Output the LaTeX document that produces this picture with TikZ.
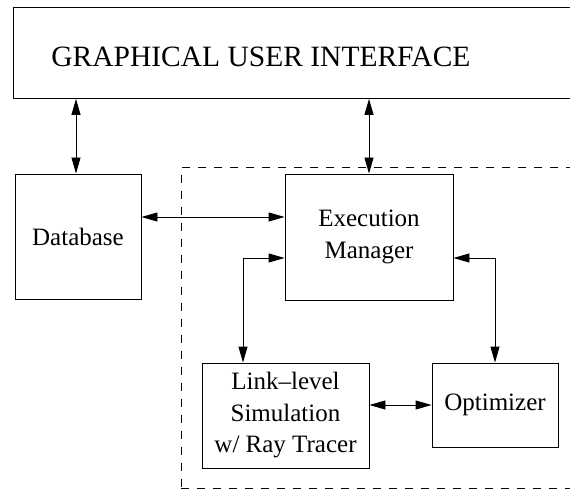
\documentclass[tikz,border=0pt]{standalone}
\usepackage{fontspec}
\setmainfont{Liberation Serif}
\usetikzlibrary{arrows.meta}
\begin{document}
\begin{tikzpicture}[x=1pt,y=-1pt,line width=0.9pt,
  box/.style={draw, inner sep=0pt, align=center,
    font=\fontsize{25}{31.5}\selectfont},
  biarrow/.style={{Triangle[length=16pt,width=9pt]}-{Triangle[length=16pt,width=9pt]}},
  frame/.style={draw, dash pattern=on 8pt off 8pt, inner sep=0pt, anchor=north west}]
\clip (0,0) rectangle (570,489);

% top bar
\node[draw, inner sep=0pt, anchor=north west, minimum width=620pt, minimum height=91pt] (gui) at (12.5,7) {};
\node[anchor=base west, inner sep=0pt, font=\fontsize{29.5}{35}\selectfont] (guitext) at (51,67) {GRAPHICAL USER INTERFACE};

% dashed enclosure of the simulation components
\node[frame, minimum width=420pt, minimum height=320.5pt] (sys) at (181,167) {};

% blocks
\node[box, minimum width=126pt, minimum height=125pt] (db) at (78,236.5) {Database};
\node[box, minimum width=168pt, minimum height=126pt] (exec) at (369,237) {Execution\\Manager};
\node[box, minimum width=167pt, minimum height=105pt] (sim) at (285.5,415.5) {Link--level\\Simulation\\w/ Ray Tracer};
\node[box, minimum width=126pt, minimum height=84pt] (opt) at (495,405) {Optimizer};

% helper rows and columns
\coordinate (rowdb) at (0,217);
\coordinate (rowex) at (0,258);
\coordinate (colsim) at (243,0);
\coordinate (coldb) at (76,0);

% connectors
\draw[biarrow] (gui.south -| coldb) -- (db.north -| coldb);
\draw[biarrow] (gui.south -| exec.north) -- (exec.north);
\draw[biarrow] (db.east |- rowdb) -- (exec.west |- rowdb);
\draw[biarrow] (exec.west |- rowex) -| (sim.north -| colsim);
\draw[biarrow] (exec.east |- rowex) -| (opt.north);
\draw[biarrow] (sim.east |- opt.west) -- (opt.west);
\end{tikzpicture}
\end{document}
